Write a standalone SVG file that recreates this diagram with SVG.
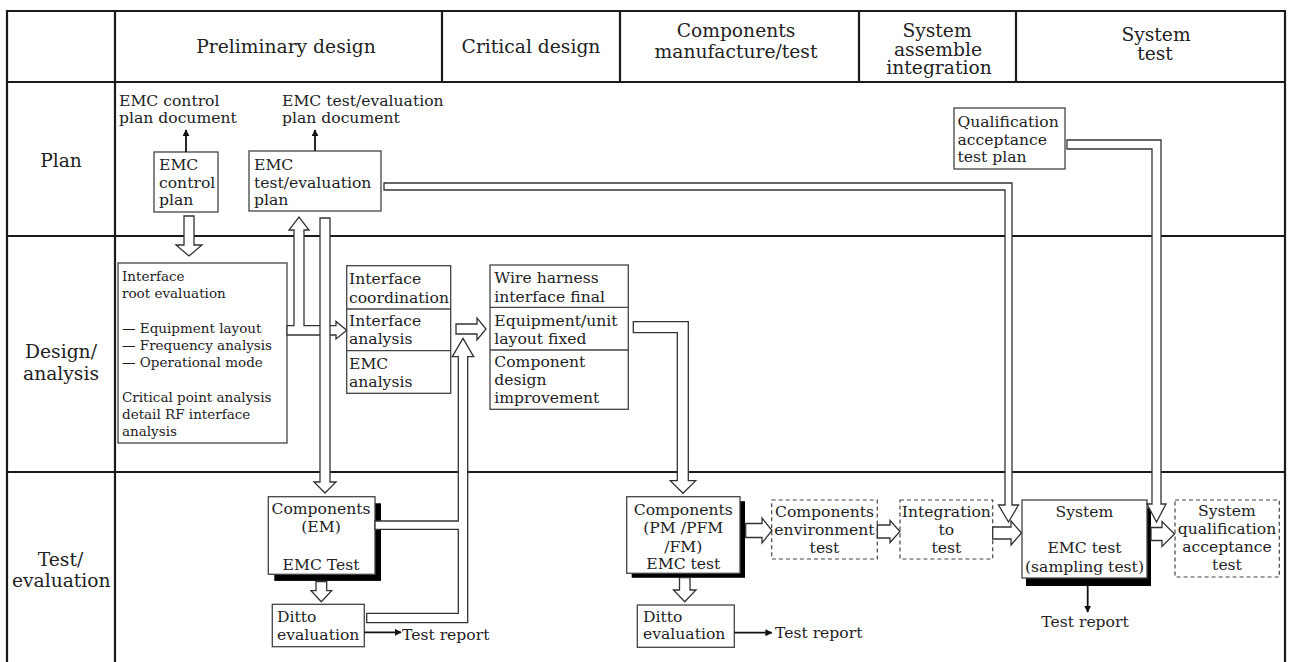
<svg xmlns="http://www.w3.org/2000/svg" width="1293" height="662" viewBox="0 0 1293 662">
<defs>
<marker id="ah" viewBox="0 0 10 10" refX="9" refY="5" markerWidth="7" markerHeight="7" markerUnits="userSpaceOnUse" orient="auto"><path d="M0,0 L10,5 L0,10 Z" fill="#111"/></marker>
<style>
.grid{stroke:#1a1a1a;stroke-width:2.2;fill:none}
.hdr{font-family:"DejaVu Serif","Liberation Serif",serif;font-size:18.7px;fill:#222;text-anchor:middle}
.t{font-family:"DejaVu Serif","Liberation Serif",serif;font-size:15.6px;fill:#222}
.ts{font-family:"DejaVu Serif","Liberation Serif",serif;font-size:13.5px;fill:#222}
.c{text-anchor:middle}
.box{fill:#fff;stroke:#444;stroke-width:1.3}
.dbox{fill:#fff;stroke:#444;stroke-width:1.2;stroke-dasharray:4 3}
.sh{fill:#000}
.hol{fill:#fff;stroke:#333;stroke-width:1.3;stroke-linejoin:miter}
.thin{stroke:#111;stroke-width:1.8;fill:none}
</style>
</defs>
<rect width="1293" height="662" fill="#fff"/>
<g id="grid">
<path class="grid" d="M7,662 V11 H1285 V662 M115,11 V662 M442,11 V82 M620,11 V82 M859,11 V82 M1016,11 V82 M7,82 H1285 M7,236 H1285 M7,472 H1285"/>
<text class="hdr" x="286" y="53">Preliminary design</text>
<text class="hdr" x="531" y="53">Critical design</text>
<text class="hdr" x="736" y="37">Components</text>
<text class="hdr" x="736" y="57.5">manufacture/test</text>
<text class="hdr" x="937" y="37">System</text>
<text class="hdr" x="938" y="55.5">assemble</text>
<text class="hdr" x="939" y="74">integration</text>
<text class="hdr" x="1156" y="41">System</text>
<text class="hdr" x="1155" y="60">test</text>
<text class="hdr" x="61" y="167">Plan</text>
<text class="hdr" x="61" y="358">Design/</text>
<text class="hdr" x="61" y="380">analysis</text>
<text class="hdr" x="60.5" y="566">Test/</text>
<text class="hdr" x="61.3" y="587">evaluation</text>
</g>
<g id="doc-control">
<text class="t" x="119" y="106">EMC control</text>
<text class="t" x="119" y="123">plan document</text>
</g>
<g id="doc-test">
<text class="t" x="282" y="106">EMC test/evaluation</text>
<text class="t" x="282" y="123">plan document</text>
</g>
<g id="emc-control-plan">
<rect class="box" x="154" y="152" width="64" height="60"/>
<text class="t" x="159" y="170">EMC</text>
<text class="t" x="159" y="188">control</text>
<text class="t" x="159" y="204.5">plan</text>
</g>
<g id="emc-test-plan">
<rect class="box" x="249" y="151" width="132" height="60"/>
<text class="t" x="254" y="170">EMC</text>
<text class="t" x="254" y="188">test/evaluation</text>
<text class="t" x="254" y="204.5">plan</text>
</g>
<g id="qual-plan">
<rect class="box" x="954" y="108" width="111" height="61"/>
<text class="t" x="957.5" y="127">Qualification</text>
<text class="t" x="957.5" y="145">acceptance</text>
<text class="t" x="957.5" y="162">test plan</text>
</g>
<g id="interface-root">
<rect class="box" x="118" y="263" width="169" height="180"/>
<text class="ts" x="122" y="281">Interface</text>
<text class="ts" x="122" y="298">root evaluation</text>
<text class="ts" x="122" y="333">— Equipment layout</text>
<text class="ts" x="122" y="350">— Frequency analysis</text>
<text class="ts" x="122" y="367">— Operational mode</text>
<text class="ts" x="122" y="402">Critical point analysis</text>
<text class="ts" x="122" y="419">detail RF interface</text>
<text class="ts" x="122" y="436">analysis</text>
</g>
<g id="interface-analysis">
<rect class="box" x="346.7" y="265.7" width="104" height="127.6"/>
<path class="box" d="M346.7,309 H450.7 M346.7,350.7 H450.7"/>
<text class="t" x="349" y="284">Interface</text>
<text class="t" x="349" y="302.5">coordination</text>
<text class="t" x="349" y="326">Interface</text>
<text class="t" x="349" y="344">analysis</text>
<text class="t" x="349" y="369">EMC</text>
<text class="t" x="349" y="387">analysis</text>
</g>
<g id="wire-harness">
<rect class="box" x="490" y="265" width="138.3" height="144.3"/>
<path class="box" d="M490,307.3 H628.3 M490,350 H628.3"/>
<text class="t" x="494.3" y="283.3">Wire harness</text>
<text class="t" x="494.3" y="301.7">interface final</text>
<text class="t" x="494.3" y="325.7">Equipment/unit</text>
<text class="t" x="494.3" y="344">layout fixed</text>
<text class="t" x="494.3" y="367.3">Component</text>
<text class="t" x="494.3" y="385">design</text>
<text class="t" x="494.3" y="403.3">improvement</text>
</g>
<g id="components-em">
<rect class="sh" x="274.3" y="503.3" width="106.7" height="77.6"/>
<rect class="box" x="268.3" y="496.7" width="106.7" height="77.6"/>
<text class="t c" x="321" y="514">Components</text>
<text class="t c" x="321" y="532">(EM)</text>
<text class="t c" x="321" y="570">EMC Test</text>
</g>
<g id="ditto-1">
<rect class="box" x="272.3" y="604.3" width="92" height="42.4"/>
<text class="t" x="277" y="621.7">Ditto</text>
<text class="t" x="277" y="640">evaluation</text>
</g>
<g id="report-1"><text class="t" x="402" y="640">Test report</text></g>
<g id="components-pm">
<rect class="sh" x="631.7" y="501.2" width="113.3" height="76.6"/>
<rect class="box" x="626.7" y="496.7" width="113.3" height="76.6"/>
<text class="t c" x="683.3" y="515">Components</text>
<text class="t c" x="683.3" y="533">(PM /PFM</text>
<text class="t c" x="683.3" y="551.5">/FM)</text>
<text class="t c" x="683.3" y="569.3">EMC test</text>
</g>
<g id="ditto-2">
<rect class="box" x="637.3" y="605" width="97" height="42.3"/>
<text class="t" x="643" y="621.7">Ditto</text>
<text class="t" x="643" y="639.3">evaluation</text>
</g>
<g id="report-2"><text class="t" x="775" y="638">Test report</text></g>
<g id="env-test">
<rect class="dbox" x="771.7" y="500" width="105.6" height="59"/>
<text class="t c" x="824.5" y="517.3">Components</text>
<text class="t c" x="824.5" y="535">environment</text>
<text class="t c" x="824.5" y="552.7">test</text>
</g>
<g id="integration-test">
<rect class="dbox" x="900" y="500" width="92.7" height="59"/>
<text class="t c" x="946.3" y="517">Integration</text>
<text class="t c" x="946.3" y="535">to</text>
<text class="t c" x="946.3" y="553">test</text>
</g>
<g id="system-emc">
<rect class="sh" x="1026" y="508" width="125" height="78"/>
<rect class="box" x="1022" y="500" width="125" height="78"/>
<text class="t c" x="1084.5" y="517">System</text>
<text class="t c" x="1084.5" y="553">EMC test</text>
<text class="t c" x="1084.5" y="572">(sampling test)</text>
</g>
<g id="report-3"><text class="t c" x="1085" y="627">Test report</text></g>
<g id="system-qual">
<rect class="dbox" x="1175" y="500" width="104.3" height="77"/>
<text class="t c" x="1227" y="516">System</text>
<text class="t c" x="1227" y="534">qualification</text>
<text class="t c" x="1227" y="552">acceptance</text>
<text class="t c" x="1227" y="570">test</text>
</g>
<g id="connectors">
<path class="hol" d="M184,216 H194 V245 H202 L189,256 L176,245 H184 Z"/>
<path class="hol" d="M287,325.7 H294 V230 H289 L299,217 L309,230 H304 V325.7 H336 V321.5 L346.7,330.3 L336,339 V335 H287 Z"/>
<path class="hol" d="M320,218 H330 V482 H336 L325,493 L314,482 H320 Z"/>
<path class="hol" d="M384,183 H1012 V505 H1018.5 L1008.5,522 L998.5,505 H1005 V190 H384 Z"/>
<path class="hol" d="M1067,140 H1161 V504 H1166 L1156.5,522 L1147,504 H1152 V149 H1067 Z"/>
<path class="hol" d="M375,521 H458.3 V356.7 H452.3 L463,338.3 L473.7,356.7 H467.7 V622.7 H366.7 V613.3 H458.3 V529.3 H375 Z"/>
<path class="hol" d="M456,324 H477 V318 L486,329 L477,340 V334 H456 Z"/>
<path class="hol" d="M633.3,321.7 H688.3 V480.7 H695.7 L683,493.3 L670.3,480.7 H677.3 V332.7 H633.3 Z"/>
<path class="hol" d="M316,581.7 H326.7 V590.7 H331.7 L321.3,601.7 L311,590.7 H316 Z"/>
<path class="hol" d="M679.5,577.7 H690 V590 H696 L684.7,601.7 L673.5,590 H679.5 Z"/>
<path class="hol" d="M745.7,523.5 H762 V518 L772,530.5 L762,543 V537.5 H745.7 Z"/>
<path class="hol" d="M877.3,525 H890 V520.5 L900,531.5 L890,542.5 V538 H877.3 Z"/>
<path class="hol" d="M992.7,527 H1011 V521 L1021.5,533 L1011,545 V539 H992.7 Z"/>
<path class="hol" d="M1151,527.5 H1162 V521.5 L1174.5,534 L1162,546.5 V540.5 H1151 Z"/>
<line class="thin" x1="186" y1="152" x2="186" y2="130" marker-end="url(#ah)"/>
<line class="thin" x1="315" y1="151" x2="315" y2="130" marker-end="url(#ah)"/>
<line class="thin" x1="364.3" y1="632.3" x2="401" y2="632.3" marker-end="url(#ah)"/>
<line class="thin" x1="734.3" y1="632.7" x2="771.7" y2="632.7" marker-end="url(#ah)"/>
<line class="thin" x1="1087.7" y1="586" x2="1087.7" y2="612" marker-end="url(#ah)"/>
</g>
</svg>
